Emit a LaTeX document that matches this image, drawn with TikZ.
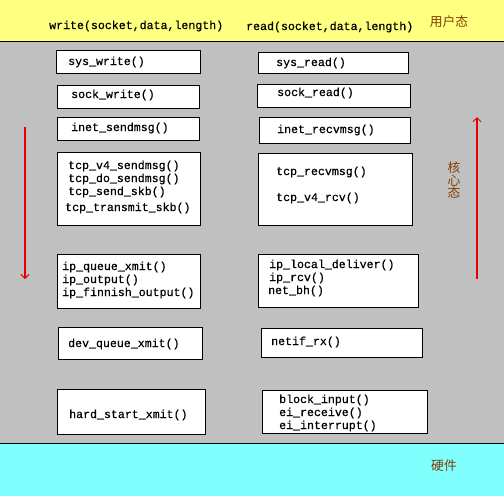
\documentclass[tikz,border=0pt]{standalone}
\usepackage{fontspec}
\newfontfamily\fnfont{Liberation Mono}[FakeBold=0.5]
\newfontfamily\cjk{Noto Sans CJK SC}
\usetikzlibrary{arrows.meta}
\definecolor{userbg}{HTML}{FFFF80}
\definecolor{kernbg}{HTML}{C0C0C0}
\definecolor{hwbg}{HTML}{80FFFF}
\definecolor{zone}{HTML}{804000}
\definecolor{flow}{HTML}{E80000}
\begin{document}
\begin{tikzpicture}[x=1pt,y=-1pt,
  box/.style={draw=black,line width=1pt,fill=white,rectangle,inner sep=0pt},
  fn/.style={font=\fnfont\fontsize{11.6}{13}\selectfont,anchor=west,inner sep=0pt},
  zonelbl/.style={font=\cjk\fontsize{12.8}{13.5}\selectfont,text=zone,inner sep=0pt},
  flowline/.style={draw=flow,line width=1.2pt,-{Straight Barb[length=4pt,width=8pt,line width=1pt]}}]
\useasboundingbox (0,0) rectangle (504,496);
% three layers: user space, kernel, hardware
\fill[userbg] (0,0) rectangle (504,41);
\fill[kernbg] (0,41) rectangle (504,443);
\fill[hwbg] (0,443) rectangle (504,496);
\draw[line width=1pt] (0,41) -- (504,41);
\draw[line width=1pt] (0,443) -- (504,443);

% system call entries
\node[fn] (wr) at (49,26) {write(socket,data,length)};
\node[fn] (rd) at (246,27) {read(socket,data,length)};
\node[zonelbl] (user) at (449,22) {用户态};
\node[zonelbl,align=center] (kern) at (454,180) {核\\[-1pt]心\\[-1pt]态};
\node[zonelbl] (hw) at (444,466) {硬件};

% send path
\node[box,minimum width=144,minimum height=23] (b1) at (128,61.5) {};
\node[fn] (t1) at (68,62) {sys\_write()};
\node[box,minimum width=142,minimum height=23] (b2) at (128,96.5) {};
\node[fn] (t2) at (71,95) {sock\_write()};
\node[box,minimum width=142,minimum height=23] (b3) at (128,128.5) {};
\node[fn] (t3) at (71,128) {inet\_sendmsg()};
\node[box,minimum width=143,minimum height=73] (b4) at (128.5,188.5) {};
\node[fn] (t4a) at (68,166) {tcp\_v4\_sendmsg()};
\node[fn] (t4b) at (68,179) {tcp\_do\_sendmsg()};
\node[fn] (t4c) at (68,192) {tcp\_send\_skb()};
\node[fn] (t4d) at (65,208) {tcp\_transmit\_skb()};
\node[box,minimum width=143,minimum height=54] (b5) at (128.5,281) {};
\node[fn] (t5a) at (62,267) {ip\_queue\_xmit()};
\node[fn] (t5b) at (62,280) {ip\_output()};
\node[fn] (t5c) at (62,293) {ip\_finnish\_output()};
\node[box,minimum width=144,minimum height=32] (b6) at (130,343) {};
\node[fn] (t6) at (68,344) {dev\_queue\_xmit()};
\node[box,minimum width=148,minimum height=45] (b7) at (131,411.5) {};
\node[fn] (t7) at (69,415) {hard\_start\_xmit()};

% receive path
\node[box,minimum width=150,minimum height=21] (c1) at (333,62.5) {};
\node[fn] (s1) at (276,63) {sys\_read()};
\node[box,minimum width=153,minimum height=23] (c2) at (333.5,95.5) {};
\node[fn] (s2) at (277,93) {sock\_read()};
\node[box,minimum width=151,minimum height=26] (c3) at (334.5,130) {};
\node[fn] (s3) at (277,130) {inet\_recvmsg()};
\node[box,minimum width=154,minimum height=72] (c4) at (335,189) {};
\node[fn] (s4a) at (276,172) {tcp\_recvmsg()};
\node[fn] (s4b) at (276,198) {tcp\_v4\_rcv()};
\node[box,minimum width=160,minimum height=53] (c5) at (338,280.5) {};
\node[fn] (s5a) at (269,265) {ip\_local\_deliver()};
\node[fn] (s5b) at (269,278) {ip\_rcv()};
\node[fn] (s5c) at (268,291) {net\_bh()};
\node[box,minimum width=161,minimum height=29] (c6) at (341.5,342.5) {};
\node[fn] (s6) at (271,342) {netif\_rx()};
\node[box,minimum width=165,minimum height=43] (c7) at (344.5,411.5) {};
\node[fn] (s7a) at (279,400) {block\_input()};
\node[fn] (s7b) at (279,413) {ei\_receive()};
\node[fn] (s7c) at (279,426) {ei\_interrupt()};

% direction of data flow
\coordinate (sendtop) at (25,127);
\coordinate (sendend) at (25,279);
\coordinate (recvbot) at (477,279);
\coordinate (recvend) at (477,117);
\draw[flowline] (sendtop) -- (sendend);
\draw[flowline] (recvbot) -- (recvend);
\end{tikzpicture}
\end{document}
